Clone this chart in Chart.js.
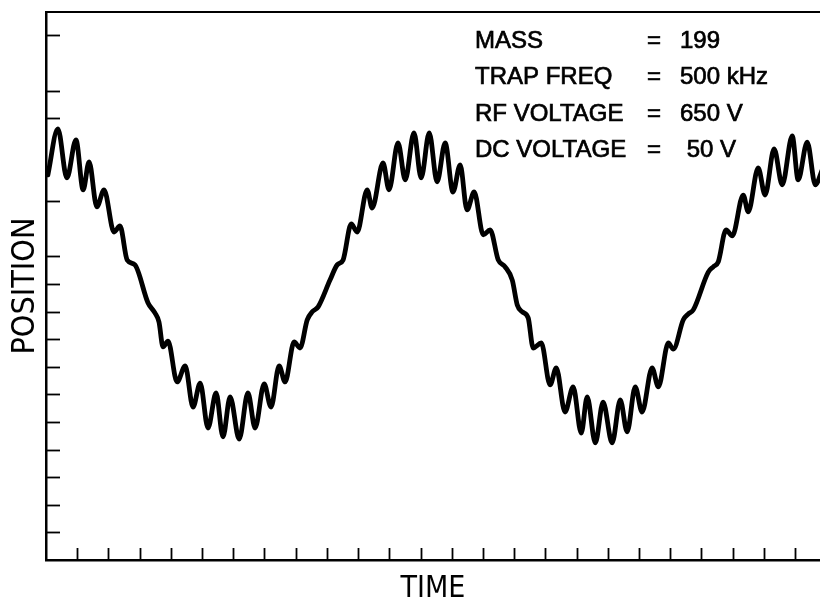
<!DOCTYPE html>
<html>
<head>
<meta charset="utf-8">
<script src="https://cdn.jsdelivr.net/npm/chart.js@4"></script>
<style>
  html, body { margin: 0; padding: 0; background: #fff; }
  #wrap { width: 820px; height: 608px; position: relative; }
</style>
</head>
<body>
<div id="wrap"><canvas id="chartTrace"></canvas></div>
<script>
// trace: time in x-tick units, position in y-tick units
const timeValues = [
  0.06, 0.38, 0.67, 0.96, 1.19, 1.38, 1.63, 1.86, 2.18, 2.37,
  2.60, 2.85, 3.27, 3.49, 3.62, 3.75, 3.91, 4.20, 4.46, 4.71,
  4.94, 5.19, 5.45, 5.67, 5.90, 6.19, 6.47, 6.70, 6.99, 7.21,
  7.47, 7.66, 7.95, 8.14, 8.37, 8.53, 8.72, 9.10, 9.33, 9.52,
  9.78, 9.97, 10.29, 10.45, 10.80, 10.99, 11.28, 11.51, 11.79, 12.02,
  12.28, 12.53, 12.79, 13.04, 13.27, 13.49, 13.72, 14.01, 14.23, 14.49,
  14.71, 14.94, 15.10, 15.26, 15.45, 15.61, 15.87, 16.15, 16.35, 16.63,
  16.89, 17.15, 17.34, 17.60, 17.85, 18.14, 18.40, 18.62, 18.88, 19.10,
  19.42, 19.62, 19.94, 20.10, 20.42, 20.58, 20.74, 21.22, 21.38, 21.54,
  21.79, 21.99, 22.34, 22.50, 22.82, 23.04, 23.33, 23.59, 23.91, 24.10,
  24.39, 24.65, 24.87
];
const positionValues = [
  13.95, 15.62, 13.84, 15.22, 13.41, 14.42, 12.79, 13.41, 11.88, 12.10,
  10.87, 10.69, 9.31, 8.95, 8.62, 7.72, 7.93, 6.45, 7.03, 5.54,
  6.41, 4.78, 6.05, 4.46, 5.91, 4.38, 6.05, 4.78, 6.38, 5.54,
  7.03, 6.45, 7.90, 7.68, 8.70, 8.99, 9.17, 10.14, 10.69, 10.87,
  12.17, 11.88, 13.41, 12.75, 14.38, 13.41, 15.11, 13.77, 15.47, 13.84,
  15.47, 13.70, 15.11, 13.33, 14.31, 12.68, 13.33, 11.78, 11.96, 10.87,
  10.62, 10.14, 9.24, 8.99, 8.77, 7.68, 7.86, 6.34, 6.96, 5.36,
  6.27, 4.60, 5.91, 4.24, 5.72, 4.24, 5.80, 4.64, 6.27, 5.36,
  6.96, 6.27, 7.86, 7.64, 8.70, 8.91, 9.06, 10.43, 10.62, 10.80,
  11.96, 11.74, 13.22, 12.61, 14.20, 13.22, 14.89, 13.59, 15.36, 13.77,
  15.14, 13.59, 14.13
];

const xTickMarks = [1, 2, 3, 4, 5, 6, 7, 8, 9, 10, 11, 12, 13, 14, 15, 16, 17, 18, 19, 20, 21, 22, 23, 24];
const yTickMarks = [1, 2, 3, 4, 5, 6, 7, 8, 9, 10, 11, 13, 16, 17, 19];

const paramLabels = ['MASS', 'TRAP FREQ', 'RF VOLTAGE', 'DC VOLTAGE'];
const paramValues = ['199', '500 kHz', '650 V', ' 50 V'];

const points = timeValues.map((t, i) => ({ x: t, y: positionValues[i] }));

// inward tick marks, top frame line and the parameter block
const frameMarks = {
  id: 'frameMarks',
  afterDraw(chart) {
    const { ctx, chartArea } = chart;
    const xs = chart.scales.x, ys = chart.scales.y;
    ctx.save();
    ctx.strokeStyle = '#000';
    ctx.lineWidth = 2;
    ctx.beginPath();
    ctx.moveTo(chartArea.left, chartArea.top);
    ctx.lineTo(chartArea.right, chartArea.top);
    ctx.stroke();
    ctx.lineWidth = 1.8;
    yTickMarks.forEach(v => {
      const py = Math.round(ys.getPixelForValue(v)) + 0.5;
      ctx.beginPath();
      ctx.moveTo(chartArea.left, py);
      ctx.lineTo(chartArea.left + 14, py);
      ctx.stroke();
    });
    xTickMarks.forEach(v => {
      const px = Math.round(xs.getPixelForValue(v)) + 0.5;
      ctx.beginPath();
      ctx.moveTo(px, chartArea.bottom);
      ctx.lineTo(px, chartArea.bottom - 12);
      ctx.stroke();
    });

    // parameter block, slightly thickened like the scanned lettering
    ctx.fillStyle = '#000';
    ctx.lineWidth = 0.7;
    ctx.font = '24px "Liberation Sans", Arial, sans-serif';
    ctx.textBaseline = 'alphabetic';
    const put = (txt, x, y, align) => {
      ctx.textAlign = align;
      ctx.fillText(txt, x, y);
      ctx.strokeText(txt, x, y);
    };
    paramLabels.forEach((lab, i) => {
      const by = 47.5 + i * 36.6;
      put(lab, 475, by, 'left');
      put('=', 654, by, 'center');
      put(paramValues[i], 680, by, 'left');
    });
    ctx.restore();
  }
};

const titleFamily = '"Liberation Sans Narrow", "DejaVu Sans Condensed", "Liberation Sans", sans-serif';

new Chart(document.getElementById('chartTrace'), {
  type: 'line',
  data: {
    datasets: [{
      data: points,
      borderColor: '#000',
      borderWidth: 4.8,
      pointRadius: 0,
      fill: false,
      cubicInterpolationMode: 'monotone',
      borderCapStyle: 'round',
      borderJoinStyle: 'round'
    }]
  },
  options: {
    responsive: true,
    maintainAspectRatio: false,
    animation: false,
    layout: { padding: { top: 12, right: 0, bottom: 0, left: 0 } },
    plugins: { legend: { display: false }, tooltip: { enabled: false } },
    scales: {
      x: {
        type: 'linear',
        min: 0,
        max: 24.8,
        ticks: { display: false, stepSize: 1 },
        grid: { display: false },
        border: { display: true, color: '#000', width: 2.5 },
        title: { display: true, text: 'TIME', color: '#000', font: { family: titleFamily, size: 30 }, padding: { top: 0, bottom: 1 } },
        afterFit(s) { s.height = 48; }
      },
      y: {
        min: 0,
        max: 19.85,
        ticks: { display: false, stepSize: 1 },
        grid: { display: false },
        border: { display: true, color: '#000', width: 2.5 },
        title: { display: true, text: 'POSITION', color: '#000', font: { family: titleFamily, size: 32 }, padding: { top: 6, bottom: 0 } },
        afterFit(s) { s.width = 46; }
      }
    }
  },
  plugins: [frameMarks]
});
</script>
</body>
</html>
